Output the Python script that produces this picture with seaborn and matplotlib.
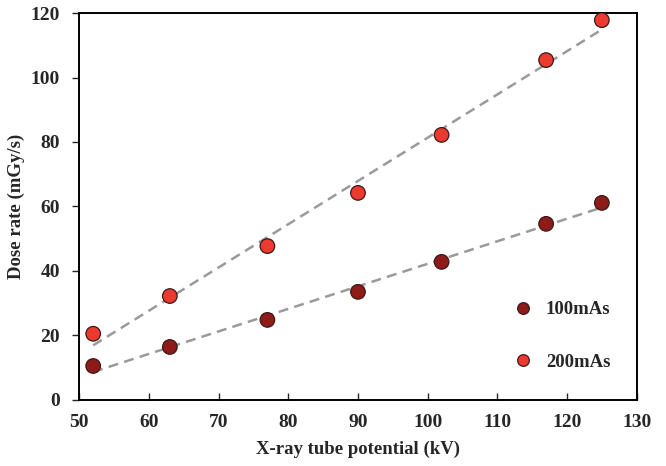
import matplotlib
matplotlib.use("Agg")
import matplotlib.pyplot as plt
import seaborn as sns
import pandas as pd

# Data
kv = [52, 63, 77, 90, 102, 117, 125]
dose_100mas = [10.5, 16.4, 24.8, 33.5, 42.8, 54.6, 61.1]
dose_200mas = [20.5, 32.2, 47.7, 64.2, 82.2, 105.4, 117.8]
series_names = ["100mAs", "200mAs"]
series_colours = ["#8e1b17", "#ec3a2f"]

df = pd.DataFrame({
    "kv": kv * 2,
    "dose": dose_100mas + dose_200mas,
    "series": [series_names[0]] * len(kv) + [series_names[1]] * len(kv),
})

sns.set_style("ticks")
plt.rcParams["font.family"] = ["Liberation Serif", "DejaVu Serif"]
plt.rcParams["font.weight"] = "bold"

fig, ax = plt.subplots(figsize=(6.66, 4.66), dpi=100)
fig.subplots_adjust(left=0.119, right=0.956, top=0.972, bottom=0.142)

# Dashed linear trend lines
for name in series_names:
    sub = df[df["series"] == name]
    sns.regplot(data=sub, x="kv", y="dose", ax=ax, scatter=False, ci=None,
                line_kws=dict(color="#9a9a9a", linestyle=(0, (4, 2.5)), linewidth=1.8))

# Points
sns.scatterplot(data=df, x="kv", y="dose", hue="series", hue_order=series_names,
                palette=series_colours, s=110, edgecolor="#3a1a1a", linewidth=0.9,
                ax=ax, zorder=3)

ax.set_xlim(50, 130)
ax.set_ylim(0, 120)
ax.set_xticks(range(50, 131, 10))
ax.set_yticks(range(0, 121, 20))
ax.tick_params(axis="x", direction="in", length=5, width=1, labelsize=14, pad=10)
ax.tick_params(axis="y", direction="out", length=5, width=1, labelsize=14, pad=9)
for label in ax.get_xticklabels() + ax.get_yticklabels():
    label.set_fontweight("bold")
for spine in ax.spines.values():
    spine.set_visible(True)
    spine.set_color("black")
    spine.set_linewidth(1.4)

ax.set_xlabel("X-ray tube potential (kV)", fontsize=13.5, fontweight="bold", labelpad=7)
ax.set_ylabel("Dose rate (mGy/s)", fontsize=13.5, fontweight="bold", labelpad=4)

ax.legend(loc="center left", bbox_to_anchor=(0.733, 0.165), frameon=False,
          labelspacing=1.9, handletextpad=0.2, markerscale=0.8,
          prop={"weight": "bold", "size": 13.5})

fig.savefig("out.png", dpi=100)
